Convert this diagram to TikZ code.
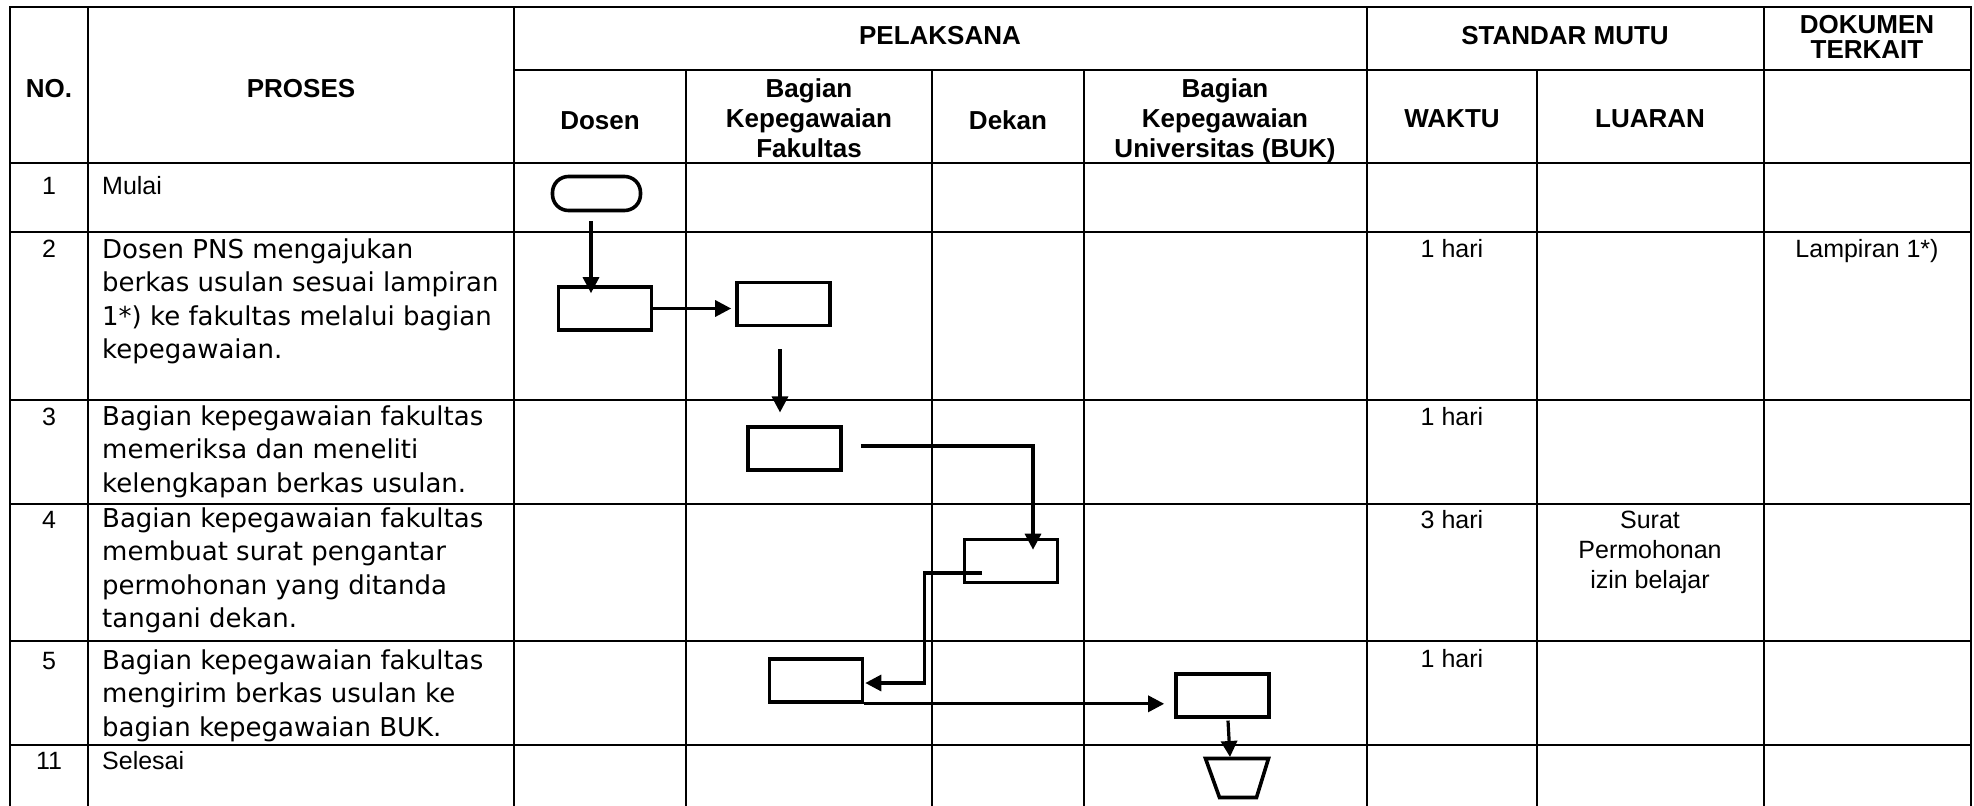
\documentclass[tikz,border=0pt]{standalone}
\usepackage{fontspec}
\setmainfont{Liberation Sans}
\newfontfamily\procfont{DejaVu Sans}
\usetikzlibrary{arrows.meta,calc}
\newcommand{\tp}{\rule{0pt}{24pt}}
\begin{document}
\begin{tikzpicture}[x=1pt,y=-1pt,
  gridline/.style={line width=2.4pt},
  hdr/.style={font=\fontsize{26}{30}\selectfont\bfseries, align=center, inner sep=0},
  cell/.style={font=\fontsize{25}{30}\selectfont, inner sep=0},
  proc/.style={font=\procfont\fontsize{26}{33.5}\selectfont, align=left, anchor=north west, inner sep=0},
  flowbox/.style={draw, line width=3.6pt, minimum width=93pt, minimum height=43pt, inner sep=0},
  termbox/.style={draw, line width=3.6pt, minimum width=88pt, minimum height=34pt, rounded corners=16pt, inner sep=0},
  shapeline/.style={line width=3.6pt, line join=miter},
  arr/.style={line width=3.2pt, -{Triangle[length=16pt,width=16pt]}},
]
\useasboundingbox (0,0) rectangle (1974,806);
% grid
\draw[gridline] (10,806) -- (10,7) -- (1971,7) -- (1971,806);
\foreach \xx in {88,514,1367,1764} \draw[gridline] (\xx,7) -- (\xx,806);
\foreach \xx in {686,932,1084,1537} \draw[gridline] (\xx,70) -- (\xx,806);
\draw[gridline] (514,70) -- (1971,70);
\foreach \yy in {163,232,400,504,641,745} \draw[gridline] (10,\yy) -- (1971,\yy);
% headers
\node[hdr, anchor=base] (hno) at (49,97) {NO.};
\node[hdr, anchor=base] (hproses) at (301,97) {PROSES};
\node[hdr, anchor=base] (hpel) at (940,44) {PELAKSANA};
\node[hdr, anchor=base] (hsm) at (1565,44) {STANDAR MUTU};
\node[hdr, anchor=north, font=\fontsize{26}{25}\selectfont\bfseries] (hdok) at (1867,9) {\tp DOKUMEN\\TERKAIT};
\node[hdr, anchor=base] (hdosen) at (600,129) {Dosen};
\node[hdr, anchor=north] (hbkf) at (809,73) {\tp Bagian\\Kepegawaian\\Fakultas};
\node[hdr, anchor=base] (hdekan) at (1008,129) {Dekan};
\node[hdr, anchor=north] (hbuk) at (1225,73) {\tp Bagian\\Kepegawaian\\Universitas (BUK)};
\node[hdr, anchor=base] (hwaktu) at (1452,127) {WAKTU};
\node[hdr, anchor=base] (hluaran) at (1650,127) {LUARAN};
% row numbers
\node[cell, anchor=base] (n1) at (49,194) {1};
\node[cell, anchor=base] (n2) at (49,257) {2};
\node[cell, anchor=base] (n3) at (49,425) {3};
\node[cell, anchor=base] (n4) at (49,528) {4};
\node[cell, anchor=base] (n5) at (49,669) {5};
\node[cell, anchor=base] (n11) at (49,769) {11};
% process texts
\node[cell, anchor=base west] (p1) at (102,194) {Mulai};
\node[proc] (p2) at (102,234) {\tp Dosen PNS mengajukan\\berkas usulan sesuai lampiran\\1*) ke fakultas melalui bagian\\kepegawaian.};
\node[proc] (p3) at (102,401) {\tp Bagian kepegawaian fakultas\\memeriksa dan meneliti\\kelengkapan berkas usulan.};
\node[proc] (p4) at (102,503) {\tp Bagian kepegawaian fakultas\\membuat surat pengantar\\permohonan yang ditanda\\tangani dekan.};
\node[proc] (p5) at (102,645) {\tp Bagian kepegawaian fakultas\\mengirim berkas usulan ke\\bagian kepegawaian BUK.};
\node[cell, anchor=base west] (p11) at (102,769) {Selesai};
% standar mutu / dokumen
\node[cell, anchor=base] (w2) at (1452,257) {1 hari};
\node[cell, anchor=base] (w3) at (1452,425) {1 hari};
\node[cell, anchor=base] (w4) at (1452,528) {3 hari};
\node[cell, anchor=base] (w5) at (1452,667) {1 hari};
\node[cell, anchor=north, align=center] (l4) at (1650,504) {\tp Surat\\Permohonan\\izin belajar};
\node[cell, anchor=base] (d2) at (1867,257) {Lampiran 1*)};
% flow shapes
\node[termbox] (start) at (596.5,193.5) {};
\node[flowbox] (b1) at (605,308.5) {};
\node[flowbox] (b2) at (783.5,304) {};
\node[flowbox] (b3) at (794.5,448.5) {};
\node[flowbox] (b4) at (1011,561) {};
\node[flowbox] (b5) at (816,680.5) {};
\node[flowbox] (b6) at (1222.5,695.5) {};
\draw[shapeline] (1205.5,758.5) -- (1268.5,758.5) -- (1256.5,797.5) -- (1219.5,797.5) -- cycle;
\coordinate (endtop) at (1230,757);
% connectors
\draw[arr] ($(start.south)+(-5.5,9)$) -- ($(start.south |- b1.north)+(-5.5,8)$);
\draw[arr] ($(b1.east)+(-2,0)$) -- ($(b2.west |- b1.east)+(-4,0)$);
\draw[arr] ($(b2.south)+(-3.5,22)$) -- ($(b2.south |- b3.north)+(-3.5,-12.75)$);
\draw[arr] ($(b3.east)+(18,-2.5)$) -| ($(b4.north)+(22,12)$);
\draw[arr] ($(b4.center)+(-29,12)$) -| ($(b5.east)+(60,2.5)$) -- ($(b5.east)+(1,2.5)$);
\draw[arr] (b5.south east) -- ($(b6.west |- b5.south east)+(-10,0)$);
\draw[arr] ($(b6.south)+(5.5,1.75)$) -- (endtop);
\end{tikzpicture}
\end{document}
